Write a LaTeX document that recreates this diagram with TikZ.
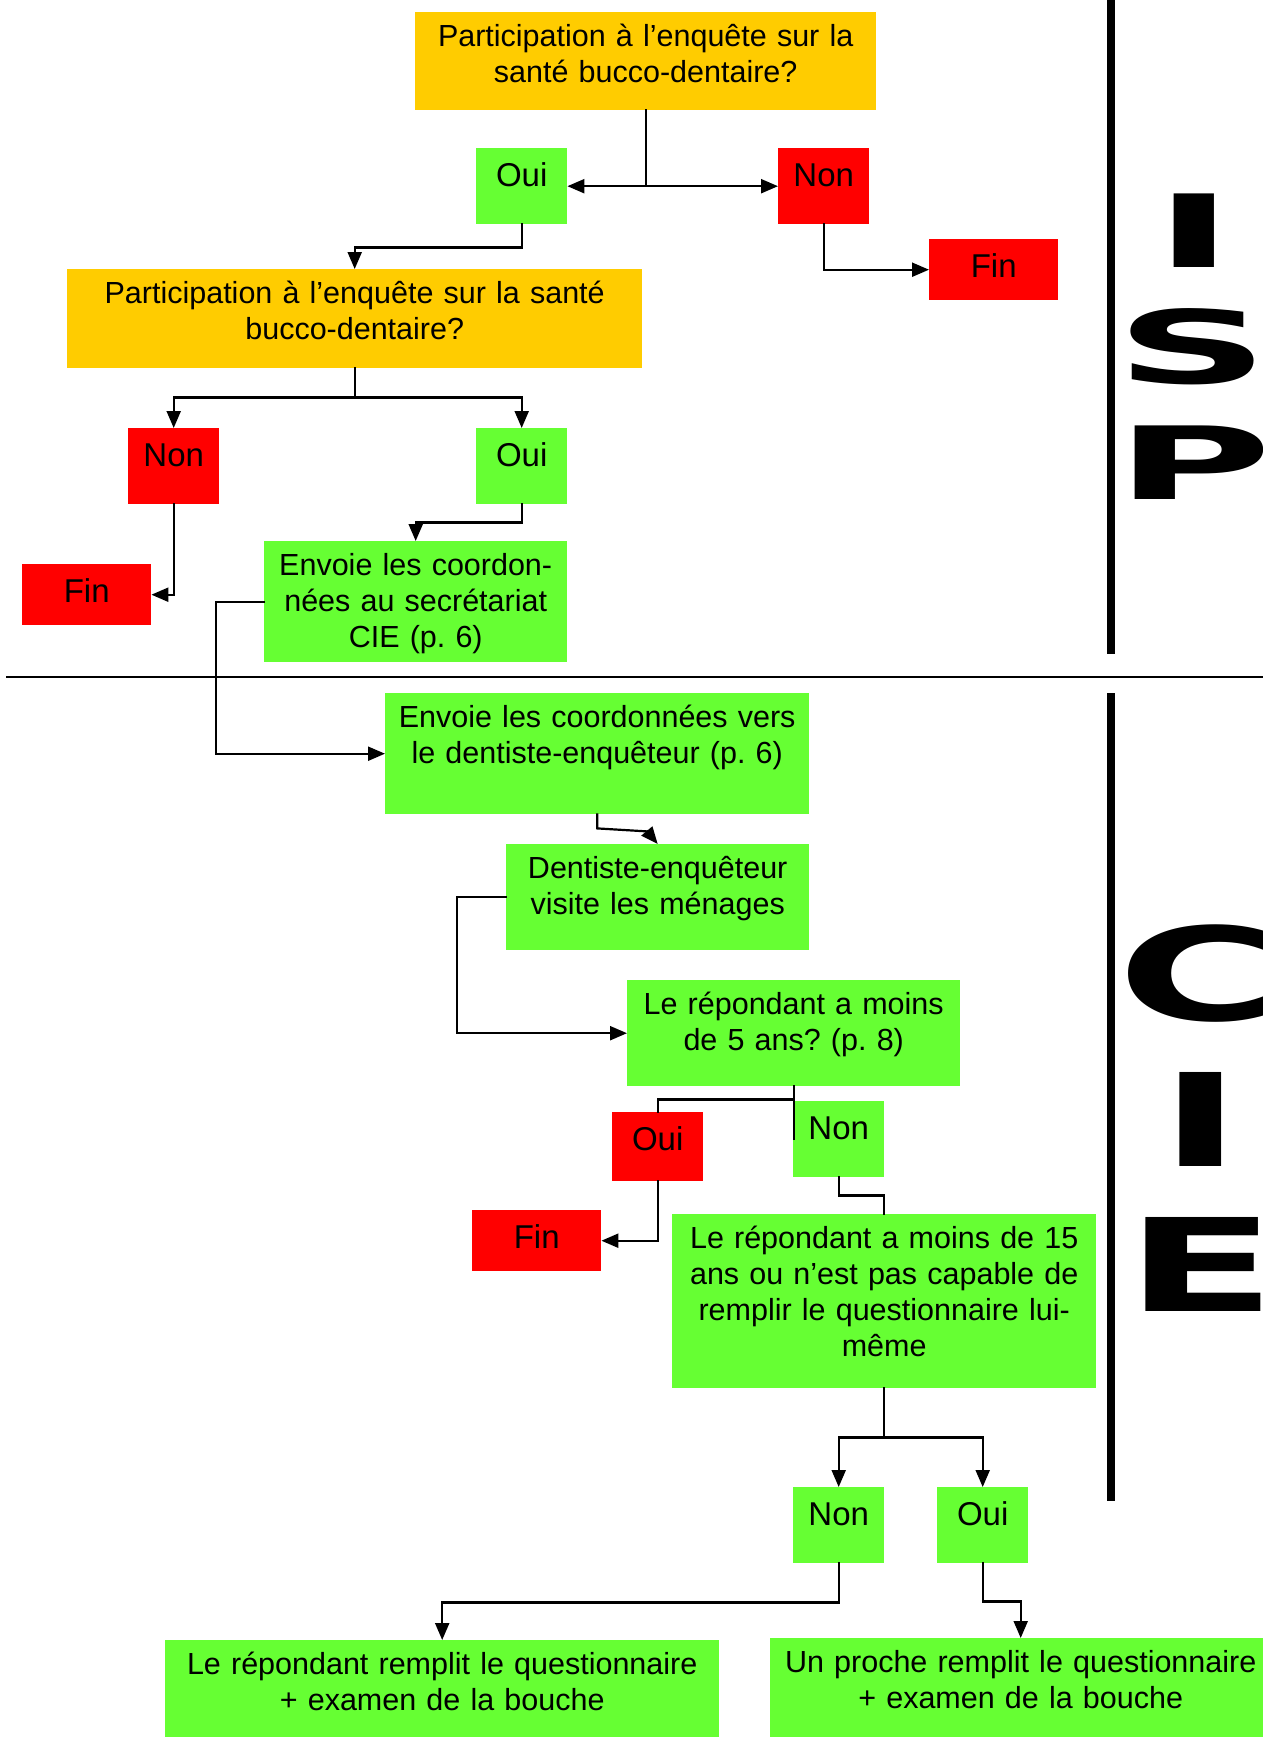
\documentclass[tikz,border=0pt]{standalone}
\usepackage{fontspec}
\setmainfont{Liberation Sans}
\newfontfamily\heavyfont{DejaVu Sans}
\usetikzlibrary{arrows.meta}
\frenchspacing

\begin{document}
\begin{tikzpicture}[x=1pt,y=-1pt,line cap=rect,
	box/.style={anchor=north west, inner sep=0pt, align=center, text height=34pt, font=\fontsize{30.5pt}{36pt}\selectfont},
	tag/.style={box, text height=38pt, font=\fontsize{33pt}{36pt}\selectfont},
	link/.style={line width=2.2pt, custcol_0_0_0},
	arr/.style={link, -{Triangle[length=17pt,width=14pt]}}]
					\def\sideletterA#1{\fontsize{101pt}{101pt}\heavyfont\bfseries\selectfont\scalebox{2.12}[1]{#1}} % I S P
					\def\sideletterB#1{\fontsize{129pt}{129pt}\heavyfont\bfseries\selectfont\scalebox{1.72}[1]{#1}} % C I E
					\definecolor{custcol_ff_cc_0}{RGB}{255, 204, 0}
					\definecolor{custcol_66_ff_33}{RGB}{102, 255, 51}
					\definecolor{custcol_ff_0_0}{RGB}{255, 0, 0}
					\definecolor{custcol_0_0_0}{RGB}{0, 0, 0}
					\useasboundingbox (0,0) rectangle (1263,1737);
					\clip (0,0) rectangle (1263,1737);
					\node[box, fill=custcol_ff_cc_0, text width=461pt, text depth=64pt] (q1) at (415,12) {Participation à l’enquête sur la\\santé bucco-dentaire?};
					\node[tag, fill=custcol_66_ff_33, text width=91pt, text depth=38pt] (oui1) at (476,148) {Oui};
					\node[tag, fill=custcol_ff_0_0, text width=91pt, text depth=38pt] (non1) at (778,148) {Non};
					\node[tag, fill=custcol_ff_0_0, text width=129pt, text depth=23pt] (fin1) at (929,239) {Fin};
					\node[box, fill=custcol_ff_cc_0, text width=575pt, text depth=65pt] (q2) at (67,269) {Participation à l’enquête sur la santé\\bucco-dentaire?};
					\node[tag, fill=custcol_ff_0_0, text width=91pt, text depth=38pt] (non2) at (128,428) {Non};
					\node[tag, fill=custcol_66_ff_33, text width=91pt, text depth=38pt] (oui2) at (476,428) {Oui};
					\node[tag, fill=custcol_ff_0_0, text width=129pt, text depth=23pt] (fin2) at (22,564) {Fin};
					\node[box, fill=custcol_66_ff_33, text width=303pt, text depth=87pt] (envoi1) at (264,541) {Envoie les coordon-\\nées au secrétariat\\CIE (p. 6)};
					\node[box, fill=custcol_66_ff_33, text width=424pt, text depth=87pt] (envoi2) at (385,693) {Envoie les coordonnées vers\\le dentiste-enquêteur (p. 6)};
					\node[box, fill=custcol_66_ff_33, text width=303pt, text depth=72pt] (dent) at (506,844) {Dentiste-enquêteur\\visite les ménages};
					\node[box, fill=custcol_66_ff_33, text width=333pt, text depth=72pt] (q5) at (627,980) {Le répondant a moins\\de 5 ans? (p. 8)};
					\node[tag, fill=custcol_ff_0_0, text width=91pt, text depth=31pt] (oui5) at (612,1112) {Oui};
					\node[tag, fill=custcol_66_ff_33, text width=91pt, text depth=38pt] (non5) at (793,1101) {Non};
					\node[tag, fill=custcol_ff_0_0, text width=129pt, text depth=23pt] (fin3) at (472,1210) {Fin};
					\node[box, fill=custcol_66_ff_33, text width=424pt, text depth=140pt] (q15) at (672,1214) {Le répondant a moins de 15\\ans ou n’est pas capable de\\remplir le questionnaire lui-\\même};
					\node[tag, fill=custcol_66_ff_33, text width=91pt, text depth=38pt] (non6) at (793,1487) {Non};
					\node[tag, fill=custcol_66_ff_33, text width=91pt, text depth=38pt] (oui6) at (937,1487) {Oui};
					\node[box, fill=custcol_66_ff_33, text width=554pt, text depth=120pt] (rep1) at (165,1640) {Le répondant remplit le questionnaire\\+ examen de la bouche};
					\node[box, fill=custcol_66_ff_33, text width=501pt, text depth=120pt] (rep2) at (770,1638) {Un proche remplit le questionnaire\\+ examen de la bouche};
					\draw[arr] (q1.south) |- (oui1.east);
					\draw[arr] (q1.south) |- (non1.west);
					\draw[arr] (oui1.south) -- ++(0,23) -| (q2.north);
					\draw[arr] (non1.south) |- (fin1.west);
					\draw[arr] (q2.south) -- ++(0,29) -| (non2.north);
					\draw[arr] (q2.south) -- ++(0,29) -| (oui2.north);
					\draw[arr] (non2.south) |- (fin2.east);
					\draw[arr] (oui2.south) -- ++(0,18) -| (envoi1.north);
					\draw[arr] (envoi1.west) -- ++(-48,0) |- (envoi2.west);
					\draw[arr] (envoi2.south) -- ++(0,14) -- ++(50,3) -- (dent.north);
					\draw[arr] (dent.west) -- ++(-49,0) |- (q5.west);
					\draw[link] (q5.south) -- ++(0,13) -| (oui5.north);
					\draw[link] (q5.south) -- (q5.south |- non5.west);
					\draw[arr] (oui5.south) |- (fin3.east);
					\draw[link] (non5.south) -- ++(0,18) -| (q15.north);
					\draw[arr] (q15.south) -- ++(0,49) -| (non6.north);
					\draw[arr] (q15.south) -- ++(0,49) -| (oui6.north);
					\draw[arr] (non6.south) -- ++(0,39) -| (rep1.north);
					\draw[arr] (oui6.south) -- ++(0,38) -| (rep2.north);
					\draw[line width=2pt, custcol_0_0_0] (7,677) -- (1263,677);
					\draw[line width=8pt, line cap=butt, custcol_0_0_0] (1111,0) -- (1111,654);
					\draw[line width=8pt, line cap=butt, custcol_0_0_0] (1111,693) -- (1111,1501);
					\node[anchor=base, inner sep=0pt] (isp_i) at (1194,267) {\sideletterA{I}};
					\node[anchor=base, inner sep=0pt] (isp_s) at (1193,383) {\sideletterA{S}};
					\node[anchor=base, inner sep=0pt] (isp_p) at (1194,499) {\sideletterA{P}};
					\node[anchor=base, inner sep=0pt] (cie_c) at (1199,1020) {\sideletterB{C}};
					\node[anchor=base, inner sep=0pt] (cie_i) at (1201,1166) {\sideletterB{I}};
					\node[anchor=base, inner sep=0pt] (cie_e) at (1201,1311) {\sideletterB{E}};
				\end{tikzpicture}
\end{document}
